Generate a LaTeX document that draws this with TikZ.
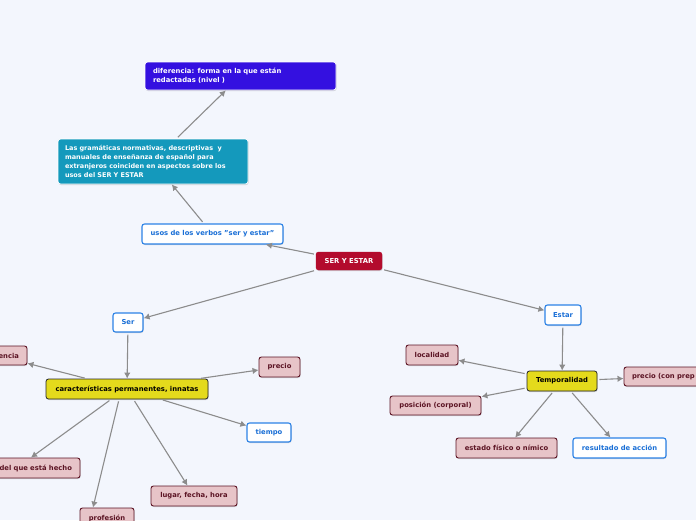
\documentclass[tikz,border=0pt]{standalone}
\usepackage{fontspec}
\setmainfont{DejaVu Sans}
\usetikzlibrary{arrows.meta,calc,shadows}
\definecolor{bgc}{HTML}{F3F6FD}
\definecolor{difc}{HTML}{3410E0}
\definecolor{gramc}{HTML}{1499BC}
\definecolor{blueb}{HTML}{2C82E6}
\definecolor{bluet}{HTML}{1A6FD6}
\definecolor{crim}{HTML}{B30B2D}
\definecolor{yel}{HTML}{E4DA1C}
\definecolor{pinkf}{HTML}{E7C4C8}
\definecolor{pinkb}{HTML}{5C1424}
\definecolor{arr}{HTML}{8C8C8C}
\tikzset{
  base/.style={rounded corners=2.5pt, font=\fontsize{6.8}{9}\selectfont\bfseries, minimum height=20pt, inner xsep=8pt, inner ysep=3pt,
    drop shadow={shadow xshift=0.6pt, shadow yshift=-1pt, opacity=0.25, fill=black!60}},
  topc/.style={base, fill=#1, draw=white, line width=0.8pt, text=white},
  bluen/.style={base, fill=white, draw=blueb, line width=1.1pt, text=bluet},
  crimn/.style={base, fill=crim, draw=crim, text=white, minimum height=18pt},
  yeln/.style={base, fill=yel, draw=black!85, line width=0.8pt, text=black},
  pinkn/.style={base, fill=pinkf, draw=pinkb, line width=0.9pt, text=pinkb},
  conn/.style={draw=arr, line width=1.1pt, -{Latex[length=6pt,width=6.5pt]}, shorten <=2pt}
}
\begin{document}
\begin{tikzpicture}[x=1pt,y=-1pt]
\fill[bgc] (0,0) rectangle (696,520);
\clip (0,0) rectangle (696,520);
% nodes
\node[topc=difc, text width=175pt, align=left, minimum height=28pt] (dif) at (240.5,76) {diferencia: forma en la que están\\redactadas (nivel )};
\node[topc=gramc, text width=176pt, inner xsep=7pt, align=left, minimum height=45pt, font=\fontsize{6.5}{9}\selectfont\bfseries] (gram) at (153,161.5) {Las gramáticas normativas, descriptivas\ \ y\\manuales de enseñanza de español para\\extranjeros coinciden en aspectos sobre los\\usos del SER Y ESTAR};
\node[bluen, minimum width=141pt] (usos) at (212.5,234) {usos de los verbos "ser y estar"};
\node[crimn, minimum width=66pt, inner xsep=4pt] (se) at (349,261) {SER Y ESTAR};
\node[bluen, minimum width=30pt, minimum height=19pt, inner xsep=4pt] (ser) at (128,322.5) {Ser};
\node[bluen, minimum width=36pt, inner xsep=4pt] (estar) at (563,315) {Estar};
\node[yeln, minimum width=162pt, inner xsep=4pt] (carac) at (127,389) {características permanentes, innatas};
\node[pinkn, text width=44pt, align=right, minimum height=19pt] (enc) at (-3,355.5) {encia};
\node[pinkn, text width=84pt, align=right] (delq) at (30,468) {del que está hecho};
\node[pinkn, minimum width=54pt, inner xsep=4pt] (prof) at (107,518) {profesión};
\node[pinkn, minimum width=41pt, inner xsep=4pt] (prec) at (279.5,367) {precio};
\node[bluen, minimum width=44pt, minimum height=19pt, inner xsep=4pt] (tiem) at (269,432.5) {tiempo};
\node[pinkn, minimum width=86pt, inner xsep=4pt] (lug) at (194,496) {lugar, fecha, hora};
\node[pinkn, minimum width=52pt, inner xsep=4pt] (loc) at (432,355) {localidad};
\node[yeln, minimum width=70pt, inner xsep=4pt] (temp) at (562,381) {Temporalidad};
\node[pinkn, text width=84pt, align=left, minimum height=19pt] (precp) at (674,376.5) {precio (con prep};
\node[pinkn, minimum width=91pt, minimum height=19pt, inner xsep=4pt] (pos) at (435.5,405.5) {posición (corporal)};
\node[pinkn, minimum width=101pt, inner xsep=4pt] (est) at (506.5,448) {estado físico o nímico};
\node[bluen, minimum width=93pt, inner xsep=4pt] (res) at (619.5,448) {resultado de acción};
% connectors
\draw[conn] (se) -- (usos);
\draw[conn] (usos) -- (gram);
\draw[conn] (gram) -- (dif);
\draw[conn] (se) -- (ser);
\draw[conn] (se) -- (estar);
\draw[conn] (ser) -- (carac);
\draw[conn] (carac) -- (enc);
\draw[conn] (carac) -- (prec);
\draw[conn] (carac) -- (tiem);
\draw[conn] ($(carac.south)+(-16,0)$) -- ($(delq.north)+(1,0)$);
\draw[conn] ($(carac.south)+(-8,0)$) -- ($(prof.north)+(-14,0)$);
\draw[conn] (carac) -- (lug);
\draw[conn] (estar) -- (temp);
\draw[conn] (temp) -- (loc);
\draw[conn] (temp) -- (precp);
\draw[conn] (temp) -- (pos);
\draw[conn] (temp) -- (est);
\draw[conn] (temp) -- (res);
\end{tikzpicture}
\end{document}
